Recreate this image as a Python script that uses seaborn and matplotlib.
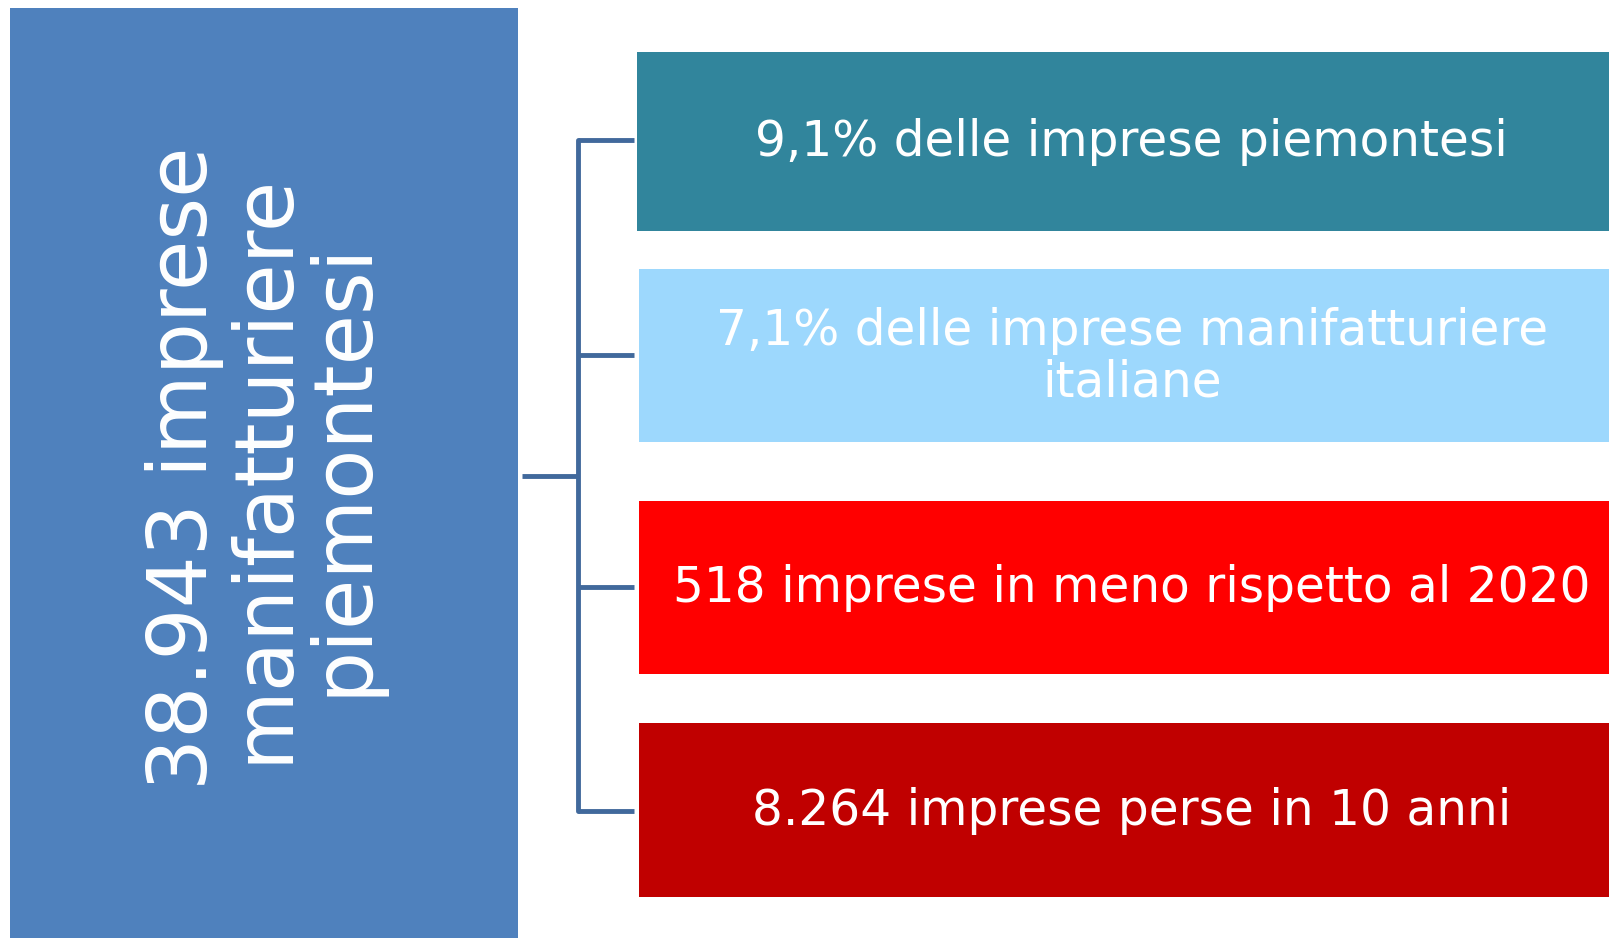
import matplotlib
matplotlib.use('Agg')
import matplotlib.pyplot as plt
import seaborn as sns

# Content of the diagram
main_label = '38.943 imprese\nmanifatturiere\npiemontesi'
main_color = '#4F81BD'

items = [
    '9,1% delle imprese piemontesi',
    '7,1% delle imprese manifatturiere\nitaliane',
    '518 imprese in meno rispetto al 2020',
    '8.264 imprese perse in 10 anni',
]
item_colors = ['#31859C', '#9DD8FD', '#FF0000', '#C00000']

# Layout (pixel space of a 1609x938 canvas)
box_top = [52, 269, 501, 723]
box_bottom = [231, 442, 674, 897]
box_left = [637, 639, 639, 639]
box_right = 1627
connector_color = '#41699C'

sns.set_theme(style='white')
plt.rcParams['font.family'] = ['DejaVu Sans']

fig = plt.figure(figsize=(16.09, 9.38), dpi=100)
ax = fig.add_axes([0, 0, 1, 1])
ax.set_xlim(0, 1609)
ax.set_ylim(938, 0)
ax.axis('off')

# left big box
ax.barh(y=(8 + 938) / 2, width=518 - 10, left=10, height=938 - 8,
        color=main_color, edgecolor='none')
ax.text(264, 468, main_label, rotation=90, ha='center', va='center',
        color='white', fontsize=59, linespacing=1.0, multialignment='center')

# right boxes
for lab, col, t, b, l in zip(items, item_colors, box_top, box_bottom, box_left):
    ax.barh(y=(t + b) / 2, width=box_right - l, left=l, height=b - t,
            color=col, edgecolor='none')
    ax.text((l + box_right) / 2 - 1, (t + b) / 2 + 1, lab, ha='center', va='center',
            color='white', fontsize=35, linespacing=1.1)

# connectors
vx = 578
mids = [140, 355, 587, 811]
ax.plot([522, vx], [476, 476], color=connector_color, lw=3.5, solid_capstyle='butt')
ax.plot([vx, vx], [mids[0], mids[-1]], color=connector_color, lw=3.5)
for m in mids:
    ax.plot([vx, 634], [m, m], color=connector_color, lw=3.5, solid_capstyle='butt')

fig.savefig('out.png', dpi=100, facecolor='white')
